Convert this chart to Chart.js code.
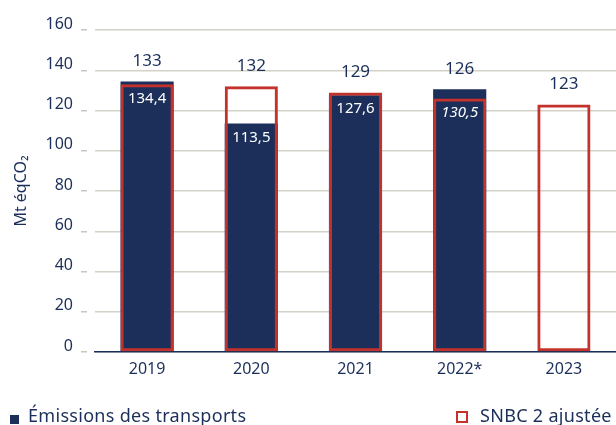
<!DOCTYPE html>
<html lang="fr">
<head>
<meta charset="utf-8">
<script src="https://cdn.jsdelivr.net/npm/chart.js@4/dist/chart.umd.min.js"></script>
<style>
  html, body { margin: 0; padding: 0; background: #fff; overflow: hidden; }
  #wrap { position: relative; width: 616px; height: 425px; overflow: hidden; }
  .leg { position: absolute; font-family: "Noto Sans", sans-serif; font-size: 18px; letter-spacing: 0.3px; color: #1b2f5a; white-space: nowrap; line-height: 18px; }
  .sw { position: absolute; box-sizing: border-box; }
</style>
</head>
<body>
<div id="wrap">
  <canvas id="chart" width="616" height="425"></canvas>
  <div class="sw" style="left:10px; top:415px; width:9px; height:9px; background:#1b2f5a;"></div>
  <div class="leg" style="left:28px; top:406px;">Émissions des transports</div>
  <div class="sw" style="left:456px; top:411px; width:12px; height:12px; border:2.5px solid #c3332c;"></div>
  <div class="leg" style="left:480px; top:406px;">SNBC 2 ajustée</div>
</div>
<script>
// ========== Data ==========
const years = ['2019', '2020', '2021', '2022*', '2023'];
const emissions = [134.4, 113.5, 127.6, 130.5, null];
const snbc = [133, 132, 129, 126, 123];
const yTicks = [0, 20, 40, 60, 80, 100, 120, 140, 160];

const navy = '#1b2f5a';
const red = '#c3332c';
const font = '"Noto Sans", sans-serif';

function fmt(v) {
  return String(v).replace('.', ',');
}

// ========== Value labels ==========
const valueLabels = {
  id: 'valueLabels',
  afterDatasetsDraw(chart) {
    const ctx = chart.ctx;
    const y = chart.scales.y;
    const sn = chart.getDatasetMeta(1).data;
    ctx.save();
    ctx.textAlign = 'center';
    ctx.textBaseline = 'middle';
    years.forEach((yr, i) => {
      const x = sn[i].x;
      const vals = [emissions[i], snbc[i]].filter(v => v != null);
      const top = y.getPixelForValue(Math.max(...vals));
      const low = y.getPixelForValue(Math.min(...vals));
      ctx.fillStyle = navy;
      ctx.font = '17px ' + font;
      ctx.fillText(String(snbc[i]), x, top - 20);
      if (emissions[i] != null) {
        ctx.fillStyle = '#ffffff';
        ctx.font = (yr.includes('*') ? 'italic ' : '') + '15px ' + font;
        ctx.fillText(fmt(emissions[i]), x, low + 14);
      }
    });
    ctx.restore();
  }
};

// ========== Chart ==========
new Chart(document.getElementById('chart'), {
  type: 'bar',
  data: {
    labels: years,
    datasets: [
      {
        label: 'Émissions des transports',
        data: emissions,
        backgroundColor: navy,
        borderWidth: 0,
        grouped: false,
        order: 2,
        barPercentage: 0.51,
        categoryPercentage: 1
      },
      {
        label: 'SNBC 2 ajustée',
        data: snbc,
        backgroundColor: 'rgba(0,0,0,0)',
        borderColor: red,
        borderWidth: 3,
        borderSkipped: false,
        grouped: false,
        order: 1,
        barPercentage: 0.51,
        categoryPercentage: 1
      }
    ]
  },
  options: {
    responsive: false,
    animation: false,
    layout: { padding: { top: 30, right: 0, bottom: 45, left: 12 } },
    plugins: { legend: { display: false }, tooltip: { enabled: false } },
    scales: {
      x: {
        grid: { display: false },
        border: { display: true, color: navy, width: 1.5 },
        ticks: { color: navy, font: { family: font, size: 16 }, padding: 0 },
        afterFit(scale) { scale.height = 28; }
      },
      y: {
        min: 0,
        max: 160,
        afterBuildTicks(scale) { scale.ticks = yTicks.map(v => ({ value: v })); },
        grid: {
          color: '#d3d1c8',
          lineWidth: 1.5,
          tickLength: 14,
          tickColor: '#c9c7be',
          tickBorderDash: [6, 8]
        },
        border: { display: false },
        ticks: { color: navy, font: { family: font, size: 16 }, padding: 8, labelOffset: -6 },
        title: {
          display: true,
          text: 'Mt éqCO₂',
          color: navy,
          font: { family: font, size: 16 },
          padding: { top: 0, bottom: 4 }
        },
        afterFit(scale) { scale.width = 83; }
      }
    }
  },
  plugins: [valueLabels]
});
</script>
</body>
</html>
